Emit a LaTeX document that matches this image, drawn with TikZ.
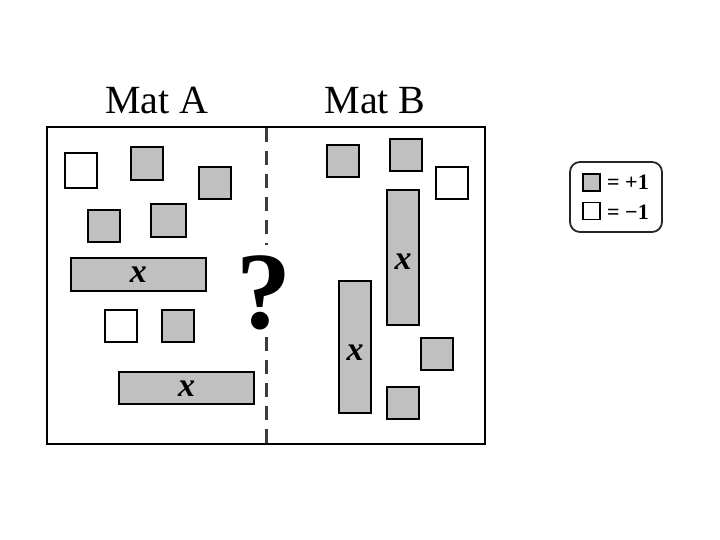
\documentclass[tikz,border=0pt]{standalone}
\usepackage{fontspec}
\setmainfont{Liberation Serif}
\definecolor{tilegray}{RGB}{192,192,192}
\definecolor{divgray}{RGB}{60,60,60}
\begin{document}
\begin{tikzpicture}[x=1pt,y=-1pt,
  tilebase/.style={draw=black, line width=2.2pt, inner sep=0pt, outer sep=0pt},
  postile/.style={tilebase, fill=tilegray},
  negtile/.style={tilebase, fill=white},
  xlab/.style={font=\fontsize{34}{34}\selectfont\bfseries\itshape},
  matlabel/.style={font=\fontsize{40}{40}\selectfont, anchor=base, inner sep=0pt},
  legtext/.style={font=\fontsize{22}{22}\selectfont\bfseries, anchor=base west, inner sep=0pt},
  legtile/.style={draw=black, line width=1.6pt, inner sep=0pt, minimum size=17pt},
  divider/.style={divgray, line width=3.5pt, dash pattern=on 14pt off 9pt}
]
\useasboundingbox (0,0) rectangle (720,540);

% frame and divider
\node[draw=black, line width=2.2pt, inner sep=0pt, minimum width=438pt, minimum height=317pt] (frame) at (266,285.5) {};
\coordinate (dtop) at (266.5,128);
\coordinate (dmid1) at (266.5,245);
\coordinate (dmid2) at (266.5,337);
\coordinate (dbot) at (266.5,444);
\draw[divider] (dtop) -- (dmid1);
\draw[divider] (dmid2) -- (dbot);
\node[font=\fontsize{110}{110}\selectfont\bfseries, inner sep=0pt] (qm) at (264,293) {?};

% labels
\node[matlabel] (labA) at (156.7,114) {Mat A};
\node[matlabel] (labB) at (375,114) {Mat B};

% Mat A tiles
\node[negtile, minimum width=32pt, minimum height=35pt] (a1) at (81,170.5) {};
\node[postile, minimum width=32pt, minimum height=33pt] (a2) at (147,163.3) {};
\node[postile, minimum width=32pt, minimum height=32pt] (a3) at (215,183) {};
\node[postile, minimum width=32pt, minimum height=32pt] (a4) at (104,226) {};
\node[postile, minimum width=35pt, minimum height=33pt] (a5) at (168.3,220.2) {};
\node[postile, minimum width=135pt, minimum height=33pt] (a6) at (138.3,274.3) {};
\node[xlab] at (a6.center) {x};
\node[negtile, minimum width=32pt, minimum height=32pt] (a7) at (121,326) {};
\node[postile, minimum width=32pt, minimum height=32pt] (a8) at (178,326) {};
\node[postile, minimum width=135pt, minimum height=32pt] (a9) at (186.5,388.2) {};
\node[xlab] at (a9.center) {x};

% Mat B tiles
\node[postile, minimum width=32pt, minimum height=32pt] (b1) at (343,161) {};
\node[postile, minimum width=32pt, minimum height=32pt] (b2) at (406,155) {};
\node[negtile, minimum width=32pt, minimum height=32pt] (b3) at (452,183) {};
\node[postile, minimum width=32pt, minimum height=135pt] (b4) at (403,257.5) {};
\node[xlab] at ([yshift=-4pt]b4.center) {x};
\node[postile, minimum width=32pt, minimum height=132pt] (b5) at (355,347) {};
\node[xlab] at ([yshift=-6pt]b5.center) {x};
\node[postile, minimum width=32pt, minimum height=32pt] (b6) at (437,354) {};
\node[postile, minimum width=32pt, minimum height=32pt] (b7) at (403,403) {};

% legend
\draw[black!85, line width=1.8pt, rounded corners=10pt] (570,162) rectangle (662,232);
\node[legtile, fill=tilegray] (lp) at (591.5,182.5) {};
\node[legtile, fill=white] (ln) at (591.5,211) {};
\node[legtext] (lpt) at (607,190) {= +1};
\node[legtext] (lnt) at (607,219) {= −1};
\end{tikzpicture}
\end{document}
